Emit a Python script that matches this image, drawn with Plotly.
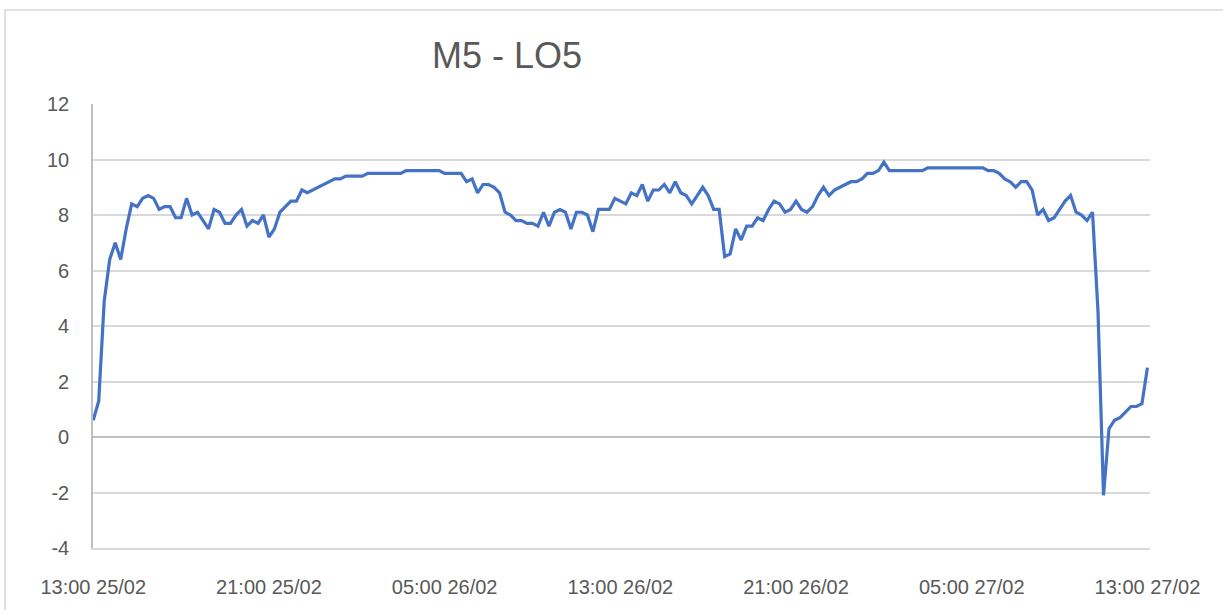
import pandas as pd
import plotly.graph_objects as go

title_text = "M5 - LO5"
start_time = "2021-02-25 13:00"
interval = "15min"

lo5_values = [
    0.6, 1.3, 4.9, 6.4, 7.0, 6.4, 7.5, 8.4, 8.3, 8.6,
    8.7, 8.6, 8.2, 8.3, 8.3, 7.9, 7.9, 8.6, 8.0, 8.1,
    7.8, 7.5, 8.2, 8.1, 7.7, 7.7, 8.0, 8.2, 7.6, 7.8,
    7.7, 8.0, 7.2, 7.5, 8.1, 8.3, 8.5, 8.5, 8.9, 8.8,
    8.9, 9.0, 9.1, 9.2, 9.3, 9.3, 9.4, 9.4, 9.4, 9.4,
    9.5, 9.5, 9.5, 9.5, 9.5, 9.5, 9.5, 9.6, 9.6, 9.6,
    9.6, 9.6, 9.6, 9.6, 9.5, 9.5, 9.5, 9.5, 9.2, 9.3,
    8.8, 9.1, 9.1, 9.0, 8.8, 8.1, 8.0, 7.8, 7.8, 7.7,
    7.7, 7.6, 8.1, 7.6, 8.1, 8.2, 8.1, 7.5, 8.1, 8.1,
    8.0, 7.4, 8.2, 8.2, 8.2, 8.6, 8.5, 8.4, 8.8, 8.7,
    9.1, 8.5, 8.9, 8.9, 9.1, 8.8, 9.2, 8.8, 8.7, 8.4,
    8.7, 9.0, 8.7, 8.2, 8.2, 6.5, 6.6, 7.5, 7.1, 7.6,
    7.6, 7.9, 7.8, 8.2, 8.5, 8.4, 8.1, 8.2, 8.5, 8.2,
    8.1, 8.3, 8.7, 9.0, 8.7, 8.9, 9.0, 9.1, 9.2, 9.2,
    9.3, 9.5, 9.5, 9.6, 9.9, 9.6, 9.6, 9.6, 9.6, 9.6,
    9.6, 9.6, 9.7, 9.7, 9.7, 9.7, 9.7, 9.7, 9.7, 9.7,
    9.7, 9.7, 9.7, 9.6, 9.6, 9.5, 9.3, 9.2, 9.0, 9.2,
    9.2, 8.9, 8.0, 8.2, 7.8, 7.9, 8.2, 8.5, 8.7, 8.1,
    8.0, 7.8, 8.1, 4.5, -2.1, 0.3, 0.6, 0.7, 0.9, 1.1,
    1.1, 1.2, 2.5,
]

y_ticks = [-4, -2, 0, 2, 4, 6, 8, 10, 12]
y_tick_text = ["-4", "-2", "0", "2", "4", "6", "8", "10", "12"]

times = pd.date_range(start_time, periods=len(lo5_values), freq=interval)

W, H = 1223, 610
L, R, T, B = 93, 1223 - 1150, 104, 610 - 548
pw, ph = W - L - R, H - T - B

fig = go.Figure()
fig.add_trace(go.Scatter(
    x=times, y=lo5_values, mode="lines",
    line=dict(color="#4472C4", width=3.2),
    hoverinfo="x+y", showlegend=False,
))

grid_col = "#d9d9d9"
txt_col = "#595959"
fam = "Liberation Sans, Arial, sans-serif"

fig.update_layout(
    width=W, height=H,
    margin=dict(l=L, r=R, t=T, b=B, autoexpand=False),
    paper_bgcolor="white", plot_bgcolor="white",
    font=dict(family=fam, color=txt_col, size=20),
    title=dict(
        text=title_text, x=507 / W, xanchor="center", xref="container",
        y=1 - 55 / H, yanchor="middle", yref="container",
        font=dict(size=36, color=txt_col, family=fam),
    ),
    xaxis=dict(
        type="date",
        range=[pd.Timestamp(start_time) - pd.Timedelta(seconds=40),
               times[-1] + pd.Timedelta(minutes=7)],
        tick0=start_time, dtick=8 * 3600 * 1000,
        tickformat="%H:%M %d/%m",
        showgrid=False, zeroline=False,
        showline=True, linecolor=grid_col, linewidth=1.6,
        ticks="outside", ticklen=20, tickcolor="rgba(0,0,0,0)",
        tickfont=dict(size=20, color=txt_col),
    ),
    yaxis=dict(
        range=[-4, 12], tickvals=y_ticks, ticktext=y_tick_text,
        showgrid=True, gridcolor=grid_col, gridwidth=1.6,
        zeroline=True, zerolinecolor="#bfbfbf", zerolinewidth=1.6,
        showline=True, linecolor="#bfbfbf", linewidth=1.6,
        ticks="outside", ticklen=18, tickcolor="rgba(0,0,0,0)",
        tickfont=dict(size=20, color=txt_col),
    ),
    shapes=[dict(
        type="rect", xref="paper", yref="paper",
        x0=(5 - L) / pw, x1=(W + 20 - L) / pw,
        y0=(H - B - (H + 20)) / ph, y1=(H - B - 10) / ph,
        line=dict(color=grid_col, width=1.6), fillcolor="rgba(0,0,0,0)",
        layer="below",
    )],
)

fig.write_html(
    "out.html",
    config={"displayModeBar": False},
    post_script="document.body.style.margin='0';document.body.style.overflow='hidden';",
)
